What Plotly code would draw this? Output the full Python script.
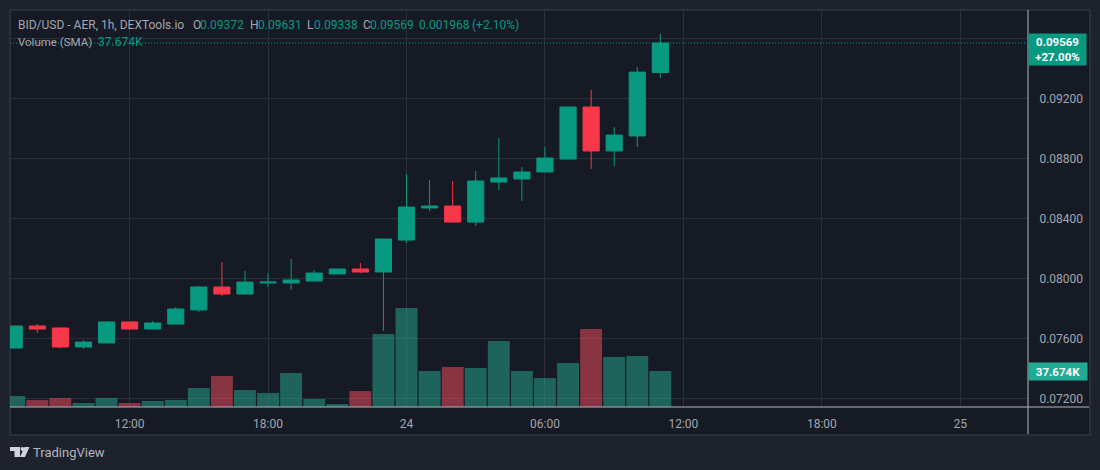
import pandas as pd
import plotly.graph_objects as go

# hourly candles
hours = pd.date_range('2024-03-23 07:00', periods=29, freq='h')
opens = [0.07535, 0.07682, 0.07669, 0.07542, 0.07569, 0.07709, 0.07662, 0.07695, 0.07789, 0.07942,
         0.07895, 0.07969, 0.07969, 0.07982, 0.08029, 0.08062, 0.08042, 0.08255, 0.08469, 0.08482,
         0.08375, 0.08642, 0.08662, 0.08709, 0.08795, 0.09142, 0.08849, 0.08949, 0.09372]
highs = [0.07682, 0.07695, 0.07669, 0.07589, 0.07709, 0.07709, 0.07715, 0.07809, 0.07949, 0.08109,
         0.08049, 0.08035, 0.08129, 0.08055, 0.08062, 0.08102, 0.08262, 0.08695, 0.08655, 0.08649,
         0.08715, 0.08935, 0.08742, 0.08875, 0.09142, 0.09255, 0.09009, 0.09409, 0.09631]
lows = [0.07535, 0.07635, 0.07535, 0.07529, 0.07569, 0.07655, 0.07662, 0.07695, 0.07775, 0.07882,
        0.07895, 0.07942, 0.07922, 0.07982, 0.08029, 0.08035, 0.07649, 0.08235, 0.08449, 0.08375,
        0.08349, 0.08589, 0.08515, 0.08709, 0.08795, 0.08729, 0.08749, 0.08875, 0.09338]
closes = [0.07682, 0.07662, 0.07542, 0.07575, 0.07709, 0.07662, 0.07702, 0.07795, 0.07942, 0.07895,
          0.07975, 0.07975, 0.07989, 0.08035, 0.08062, 0.08042, 0.08262, 0.08475, 0.08482, 0.08375,
          0.08649, 0.08669, 0.08709, 0.08802, 0.09142, 0.08849, 0.08955, 0.09375, 0.09569]
volumes = [11500, 7300, 9400, 4200, 9400, 4200, 6300, 7300, 19900, 32400,
           17800, 14700, 35600, 8400, 3100, 16700, 76400, 103600, 37700, 41900,
           40800, 69100, 37700, 30300, 46000, 81600, 52300, 53400, 37674]

time_ticks = ['2024-03-23 12:00', '2024-03-23 18:00', '2024-03-24 00:00', '2024-03-24 06:00',
              '2024-03-24 12:00', '2024-03-24 18:00', '2024-03-25 00:00']
time_labels = ['12:00', '18:00', '24', '06:00', '12:00', '18:00', '25']
price_ticks = [0.072, 0.076, 0.08, 0.084, 0.088, 0.092, 0.096]

BG = '#161A25'
PANEL = '#1E222D'
GRID = '#2A2E39'
AXIS = '#B2B5BE'
MUTED = '#A3A6AF'
GREEN = '#089981'
RED = '#F7374A'
FONT = 'Roboto'

# plot area in page pixels
LEFT, RIGHT, TOP, BOTTOM = 10, 1028, 10, 407


def px(x):
    return (x - LEFT) / (RIGHT - LEFT)


def py(y):
    return (BOTTOM - y) / (BOTTOM - TOP)


def poly(points):
    return 'M' + ' L'.join(f'{px(x):.5f},{py(y):.5f}' for x, y in points) + ' Z'


def label(x, y, text, color=MUTED, size=12):
    # annotations carry about 2px of padding on the left
    return dict(xref='paper', yref='paper', x=px(x - 2), y=py(y), text=text, showarrow=False,
                xanchor='left', yanchor='middle', font=dict(family=FONT, size=size, color=color))


fig = go.Figure()

# volume goes on the base axis so the candles draw over it
fig.add_trace(go.Bar(
    x=hours,
    y=volumes,
    yaxis='y',
    marker=dict(color=['rgba(40,172,149,0.5)' if c >= o else 'rgba(252,78,95,0.5)' for o, c in zip(opens, closes)],
                line=dict(width=0)),
    hoverinfo='skip'
))

fig.add_trace(go.Candlestick(
    x=hours,
    open=opens,
    high=highs,
    low=lows,
    close=closes,
    yaxis='y2',
    whiskerwidth=0,
    increasing=dict(line=dict(color=GREEN, width=1), fillcolor=GREEN),
    decreasing=dict(line=dict(color=RED, width=1), fillcolor=RED)
))

shapes = [
    # chart frame
    dict(type='rect', xref='paper', yref='paper', x0=px(10), x1=px(1090), y0=py(10), y1=py(435),
         fillcolor=BG, line=dict(color=GRID, width=2), layer='below'),
    # axis borders
    dict(type='line', xref='paper', yref='paper', x0=px(1028), x1=px(1028), y0=py(10), y1=py(434),
         line=dict(color=AXIS, width=1)),
    dict(type='line', xref='paper', yref='paper', x0=px(10), x1=px(1089), y0=py(407), y1=py(407),
         line=dict(color=AXIS, width=1)),
    # last price line
    dict(type='line', xref='paper', yref='y2', x0=0, x1=1, y0=closes[-1], y1=closes[-1],
         line=dict(color=GREEN, width=1, dash='1px,2px')),
    # TradingView mark
    dict(type='path', xref='paper', yref='paper', line=dict(width=0), fillcolor='#D1D4DC',
         path=poly([(10, 447), (20, 447), (20, 457), (14.5, 457), (14.5, 451), (10, 451)])),
    dict(type='circle', xref='paper', yref='paper', line=dict(width=0), fillcolor='#D1D4DC',
         x0=px(20.5), x1=px(24.5), y0=py(447), y1=py(451)),
    dict(type='path', xref='paper', yref='paper', line=dict(width=0), fillcolor='#D1D4DC',
         path=poly([(24.5, 447), (29.5, 447), (25, 457), (20, 457)])),
]

annotations = [
    label(18, 24.5, 'BID/USD - AER, 1h, DEXTools.io'),
    label(193, 24.5, 'O'),
    label(200, 24.5, '0.09372', GREEN),
    label(250, 24.5, 'H'),
    label(258, 24.5, '0.09631', GREEN),
    label(307, 24.5, 'L'),
    label(314, 24.5, '0.09338', GREEN),
    label(363, 24.5, 'C'),
    label(370, 24.5, '0.09569', GREEN),
    label(419, 24.5, '0.001968', GREEN),
    label(472, 24.5, '(+2.10%)', GREEN),
    label(18, 42, 'Volume (SMA)', MUTED, 11.5),
    label(98, 42, '37.674K', GREEN),
    label(33, 452, 'TradingView', '#B2B5BE', 13),
    dict(xref='paper', yref='paper', x=px(1028), y=py(49.5), xanchor='left', yanchor='middle',
         text='<b>0.09569</b><br><b>+27.00%</b>', showarrow=False, align='center', width=57, height=31,
         bgcolor=GREEN, borderpad=0, font=dict(family=FONT, size=11.5, color='#FFFFFF')),
    dict(xref='paper', yref='paper', x=px(1028), y=py(371.5), xanchor='left', yanchor='middle',
         text='<b>37.674K</b>', showarrow=False, align='center', width=58, height=17,
         bgcolor='#22AB94', borderpad=0, font=dict(family=FONT, size=11.5, color='#FFFFFF')),
]

fig.update_layout(
    width=1100,
    height=470,
    margin=dict(l=LEFT, r=1100 - RIGHT, t=TOP, b=470 - BOTTOM),
    paper_bgcolor=PANEL,
    plot_bgcolor=BG,
    showlegend=False,
    bargap=0.05,
    boxgap=0,
    shapes=shapes,
    annotations=annotations,
    font=dict(family=FONT, size=12, color=MUTED),
    xaxis=dict(
        type='date',
        range=['2024-03-23 06:49', '2024-03-25 02:56'],
        rangeslider=dict(visible=False),
        tickmode='array',
        tickvals=time_ticks,
        ticktext=time_labels,
        showgrid=True,
        gridcolor=GRID,
        gridwidth=1,
        zeroline=False,
        showline=False,
        ticks='outside',
        ticklen=6,
        tickcolor='rgba(0,0,0,0)'
    ),
    yaxis=dict(
        range=[0, 415500],
        showgrid=False,
        showticklabels=False,
        zeroline=False,
        showline=False,
        ticks=''
    ),
    yaxis2=dict(
        overlaying='y',
        side='right',
        range=[0.07142, 0.09789],
        tickmode='array',
        tickvals=price_ticks,
        ticktext=[f'{p:.5f}' for p in price_ticks],
        showgrid=True,
        gridcolor=GRID,
        gridwidth=1,
        zeroline=False,
        showline=False,
        ticks='outside',
        ticklen=8,
        tickcolor='rgba(0,0,0,0)'
    )
)

# the page's default body margin would push the figure 8px down and right
fig.write_html("out.html", config={'displayModeBar': False}, post_script="document.body.style.margin = '0';")
